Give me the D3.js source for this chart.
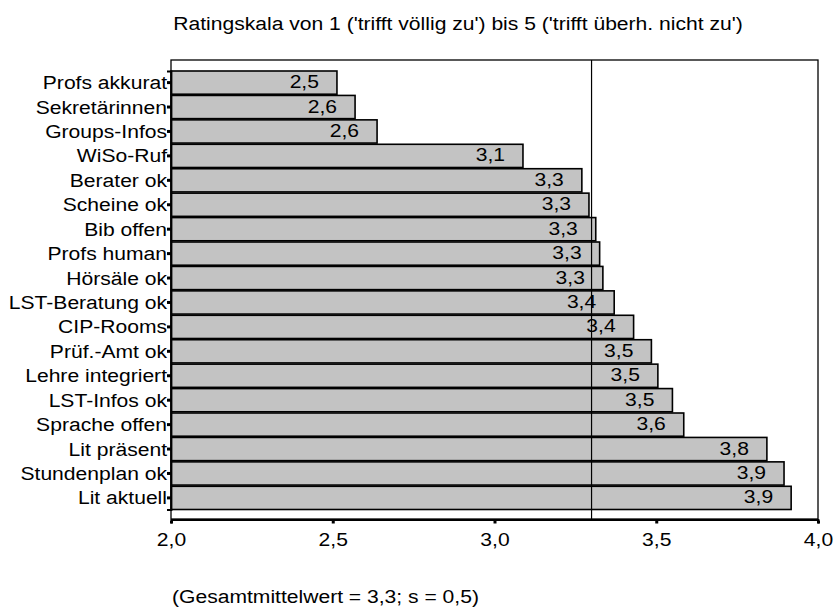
<!DOCTYPE html>
<html><head><meta charset="utf-8">
<script src="https://cdn.jsdelivr.net/npm/d3@7"></script>
<style>body{margin:0;background:#fff;} text{font-family:"Liberation Sans",Arial,sans-serif;fill:#000;}</style>
</head><body>
<svg id="c" width="835" height="608"></svg>
<script>
const categories = ["Profs akkurat","Sekretärinnen","Groups-Infos","WiSo-Ruf","Berater ok","Scheine ok","Bib offen","Profs human","Hörsäle ok","LST-Beratung ok","CIP-Rooms","Prüf.-Amt ok","Lehre integriert","LST-Infos ok","Sprache offen","Lit präsent","Stundenplan ok","Lit aktuell"];
const values = [2.513,2.569,2.637,3.088,3.27,3.292,3.313,3.325,3.335,3.37,3.43,3.485,3.505,3.55,3.585,3.842,3.895,3.917];
const valueLabels = ["2,5","2,6","2,6","3,1","3,3","3,3","3,3","3,3","3,3","3,4","3,4","3,5","3,5","3,5","3,6","3,8","3,9","3,9"];
const xTicks = [2.0,2.5,3.0,3.5,4.0];
const xTickLabels = ["2,0","2,5","3,0","3,5","4,0"];
const meanValue = 3.3;
const titleText = "Ratingskala von 1 ('trifft völlig zu') bis 5 ('trifft überh. nicht zu')";
const noteText = "(Gesamtmittelwert = 3,3; s = 0,5)";

const FS = 19, SX = 1.11;
const svg = d3.select("#c");
const L = 171, R = 818, T = 60, B = 519;
const x = d3.scaleLinear().domain([2,4]).range([L,R]);
const y = d3.scaleBand().domain(categories).range([71,509.5]).paddingInner(0.05);

// frame
svg.append("rect").attr("x",L).attr("y",T).attr("width",R-L).attr("height",B-T)
  .attr("fill","none").attr("stroke","#000").attr("stroke-width",1.3);

// bars
svg.selectAll("rect.bar").data(values).enter().append("rect").attr("class","bar")
  .attr("x",x(2)).attr("y",(d,i)=>y(categories[i]))
  .attr("width",d=>x(d)-x(2)).attr("height",y.bandwidth())
  .attr("fill","#c3c3c3").attr("stroke","#000").attr("stroke-width",1.6);

// value labels
svg.selectAll("text.val").data(values).enter().append("text").attr("class","val")
  .attr("text-anchor","end").style("font-size",FS+"px")
  .attr("transform",(d,i)=>`translate(${x(d)-18},${y(categories[i])+y.bandwidth()/2+5.5}) scale(${SX},1)`)
  .text((d,i)=>valueLabels[i]);

// mean line
svg.append("line").attr("x1",x(meanValue)).attr("x2",x(meanValue)).attr("y1",T).attr("y2",B)
  .attr("stroke","#000").attr("stroke-width",1.2);

// y axis
const yAxis = d3.axisLeft(y).tickSize(4).tickPadding(1);
const ga = svg.append("g").attr("transform",`translate(${L},0)`).call(yAxis);
ga.select(".domain").attr("stroke","#000").attr("stroke-width",1.8);
ga.selectAll(".tick line").attr("stroke","#000").attr("stroke-width",3);
ga.selectAll(".tick text").style("font-size",FS+"px").attr("font-family","Liberation Sans, Arial, sans-serif").attr("fill","#000")
  .attr("x",null).attr("dy",null).attr("transform",`translate(-4,6.5) scale(${SX},1)`);

// x axis
const xAxis = d3.axisBottom(x).tickValues(xTicks).tickFormat((d,i)=>xTickLabels[i]).tickSize(4).tickPadding(8);
const gx = svg.append("g").attr("transform",`translate(0,${B+0.5})`).call(xAxis);
gx.select(".domain").attr("stroke","#000").attr("stroke-width",1.8);
gx.selectAll(".tick line").attr("stroke","#000").attr("stroke-width",3).attr("y1",1).attr("y2",4);
gx.selectAll(".tick text").style("font-size",FS+"px").attr("font-family","Liberation Sans, Arial, sans-serif").attr("fill","#000")
  .attr("y",null).attr("dy",null).attr("transform",`translate(0,26) scale(${SX},1)`);

// title and note
svg.append("text").attr("text-anchor","middle").style("font-size",FS+"px").text(titleText)
  .attr("transform",`translate(458,30) scale(${SX},1)`);
svg.append("text").style("font-size",FS+"px").text(noteText)
  .attr("transform",`translate(172,603) scale(${SX},1)`);
</script>
</body></html>
